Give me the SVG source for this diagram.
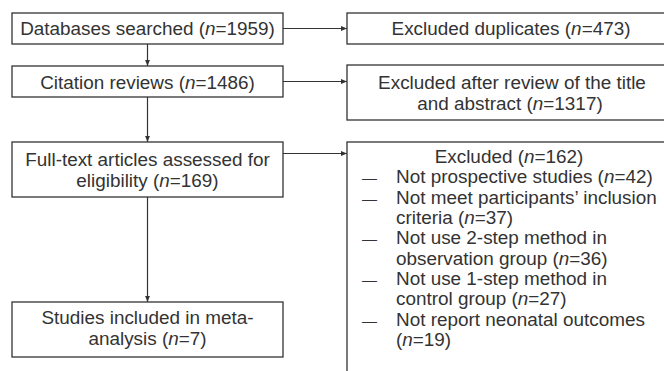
<svg xmlns="http://www.w3.org/2000/svg" width="664" height="371" viewBox="0 0 664 371">
<defs>
<marker id="ah" viewBox="0 0 6 6" refX="6" refY="3" markerWidth="6" markerHeight="6" markerUnits="userSpaceOnUse" orient="auto">
<path d="M0,0.6 L6,3 L0,5.4 Z" fill="#333"/>
</marker>
<style>
.box{fill:#fff;stroke:#333;stroke-width:1.3}
.t{font-family:"Liberation Sans",Arial,sans-serif;font-size:18.9px;fill:#333}
.d{font-family:"Liberation Sans",Arial,sans-serif;font-size:15px;fill:#333}
.c{text-anchor:middle}
.con{stroke:#333;stroke-width:1.2;fill:none;marker-end:url(#ah)}
</style>
</defs>
<rect width="664" height="371" fill="#fff"/>
<g id="connectors">
<line class="con" x1="147.5" y1="44" x2="147.5" y2="66"/>
<line class="con" x1="147.5" y1="97" x2="147.5" y2="142"/>
<line class="con" x1="147.5" y1="197" x2="147.5" y2="302"/>
<line class="con" x1="283" y1="28.5" x2="347" y2="28.5"/>
<line class="con" x1="283" y1="81.5" x2="347" y2="81.5"/>
<line class="con" x1="283" y1="153.5" x2="347" y2="153.5"/>
</g>
<g id="databases">
<rect class="box" x="12" y="13" width="271" height="31"/>
<text class="t c" x="147.5" y="34.5">Databases searched (<tspan font-style="italic">n</tspan>=1959)</text>
</g>
<g id="citation">
<rect class="box" x="12" y="66" width="271" height="31"/>
<text class="t c" x="147.5" y="89">Citation reviews (<tspan font-style="italic">n</tspan>=1486)</text>
</g>
<g id="fulltext">
<rect class="box" x="12" y="142" width="271" height="55"/>
<text class="t c" x="147.5" y="166">Full-text articles assessed for</text>
<text class="t c" x="147.5" y="186.7">eligibility (<tspan font-style="italic">n</tspan>=169)</text>
</g>
<g id="included">
<rect class="box" x="12" y="302" width="271" height="55"/>
<text class="t c" x="147.5" y="324">Studies included in meta-</text>
<text class="t c" x="147.5" y="345">analysis (<tspan font-style="italic">n</tspan>=7)</text>
</g>
<g id="duplicates">
<rect class="box" x="347" y="13" width="330" height="31"/>
<text class="t c" x="511" y="34.5">Excluded duplicates (<tspan font-style="italic">n</tspan>=473)</text>
</g>
<g id="excluded-title">
<rect class="box" x="347" y="65" width="330" height="55"/>
<text class="t c" x="512" y="89">Excluded after review of the title</text>
<text class="t c" x="510" y="110">and abstract (<tspan font-style="italic">n</tspan>=1317)</text>
</g>
<g id="excluded-fulltext">
<rect class="box" x="347" y="142" width="330" height="250"/>
<text class="t c" x="509" y="163">Excluded (<tspan font-style="italic">n</tspan>=162)</text>
<text class="d" x="362" y="183.3">—</text>
<text class="t" x="396" y="183.3">Not prospective studies (<tspan font-style="italic">n</tspan>=42)</text>
<text class="d" x="362" y="203.7">—</text>
<text class="t" x="396" y="203.7">Not meet participants’ inclusion</text>
<text class="t" x="396" y="224">criteria (<tspan font-style="italic">n</tspan>=37)</text>
<text class="d" x="362" y="244.3">—</text>
<text class="t" x="396" y="244.3">Not use 2-step method in</text>
<text class="t" x="396" y="264.7">observation group (<tspan font-style="italic">n</tspan>=36)</text>
<text class="d" x="362" y="285">—</text>
<text class="t" x="396" y="285">Not use 1-step method in</text>
<text class="t" x="396" y="305.3">control group (<tspan font-style="italic">n</tspan>=27)</text>
<text class="d" x="362" y="325.7">—</text>
<text class="t" x="396" y="325.7">Not report neonatal outcomes</text>
<text class="t" x="396" y="346">(<tspan font-style="italic">n</tspan>=19)</text>
</g>
</svg>
